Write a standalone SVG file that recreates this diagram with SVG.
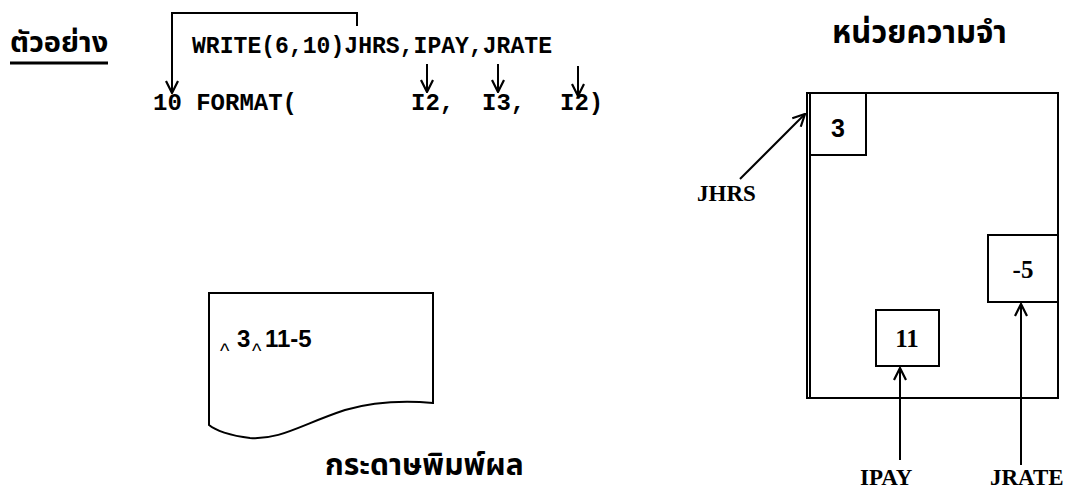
<svg xmlns="http://www.w3.org/2000/svg" width="1071" height="496" viewBox="0 0 1071 496">
<style>
.code{font-family:"Liberation Mono",monospace;font-weight:bold;font-size:24px;fill:#000}
.thai{font-family:"Noto Sans Thai","Noto Sans","DejaVu Sans",sans-serif;font-weight:bold;font-size:30px;fill:#000}
.lbl{font-family:"Liberation Serif",serif;font-weight:bold;font-size:23px;fill:#000}
.val{font-family:"Liberation Serif",serif;font-weight:bold;font-size:25px;fill:#000}
.sans{font-family:"Liberation Sans",sans-serif;font-weight:bold;fill:#000}
.caret{font-family:"Liberation Sans",sans-serif;font-size:20px;fill:#000}
.ln{stroke:#000;stroke-width:2;fill:none}
.box{stroke:#000;stroke-width:2;fill:#fff}
</style>
<defs>
<marker id="v" viewBox="0 0 16 14" refX="15" refY="7" markerWidth="16" markerHeight="14" markerUnits="userSpaceOnUse" orient="auto">
<path d="M3,1 L15,7 L3,13" fill="none" stroke="#000" stroke-width="2.2"/>
</marker>
</defs>

<g id="title-example">
<text class="thai" x="10" y="52" style="font-size:29px">ตัวอย่าง</text>
<line x1="10" y1="63" x2="108" y2="63" stroke="#000" stroke-width="3"/>
</g>

<g id="write-stmt">
<text class="code" x="192" y="53" textLength="360" lengthAdjust="spacingAndGlyphs">WRITE(6,10)JHRS,IPAY,JRATE</text>
</g>
<g id="format-stmt">
<text class="code" x="153" y="110">10 FORMAT(</text>
<text class="code" x="411" y="110">I2,</text>
<text class="code" x="482" y="110">I3,</text>
<text class="code" x="560" y="110">I2)</text>
</g>

<g id="memory-title">
<text class="thai" x="832" y="43" style="font-size:31px">หน่วยความจำ</text>
</g>

<g id="memory">
<rect x="807" y="93" width="251" height="305" class="ln"/>
<line x1="810" y1="93" x2="810" y2="398" stroke="#000" stroke-width="2"/>
</g>
<g id="cell-jhrs">
<rect x="810" y="93" width="56" height="62" class="box"/>
<text class="sans" x="838" y="137" text-anchor="middle" style="font-size:25px">3</text>
</g>
<g id="cell-jrate">
<rect x="988" y="235" width="70" height="67" class="box"/>
<text class="val" x="1023" y="278" text-anchor="middle">-5</text>
</g>
<g id="cell-ipay">
<rect x="876" y="310" width="63" height="56" class="box"/>
<text class="val" x="907" y="347" text-anchor="middle">11</text>
</g>

<g id="label-jhrs"><text class="lbl" x="697" y="201">JHRS</text></g>
<g id="label-ipay"><text class="lbl" x="860" y="485">IPAY</text></g>
<g id="label-jrate"><text class="lbl" x="990" y="485">JRATE</text></g>

<g id="paper">
<path d="M209,293 L433,293 L433,403 C410,401 380,400 345,410 C300,425 280,440 250,438 C230,436 215,430 209,425 Z" class="ln" fill="#fff"/>
<text class="caret" x="220" y="358">^</text>
<text class="sans" x="237" y="347" style="font-size:24px">3</text>
<text class="caret" x="252" y="358">^</text>
<text class="sans" x="265" y="347" style="font-size:24px">11-5</text>
</g>
<g id="paper-caption">
<text class="thai" x="325" y="475">กระดาษพิมพ์ผล</text>
</g>

<g id="connectors">
<path d="M357,26 L357,13 L172,13 L172,93" class="ln" marker-end="url(#v)"/>
<line x1="427" y1="64" x2="427" y2="92" class="ln" marker-end="url(#v)"/>
<line x1="498" y1="64" x2="498" y2="92" class="ln" marker-end="url(#v)"/>
<line x1="578" y1="66" x2="578" y2="96" class="ln" marker-end="url(#v)"/>
<line x1="740" y1="179" x2="805" y2="114" class="ln" marker-end="url(#v)"/>
<line x1="900" y1="460" x2="900" y2="368" class="ln" marker-end="url(#v)"/>
<line x1="1021" y1="465" x2="1021" y2="304" class="ln" marker-end="url(#v)"/>
</g>
</svg>
